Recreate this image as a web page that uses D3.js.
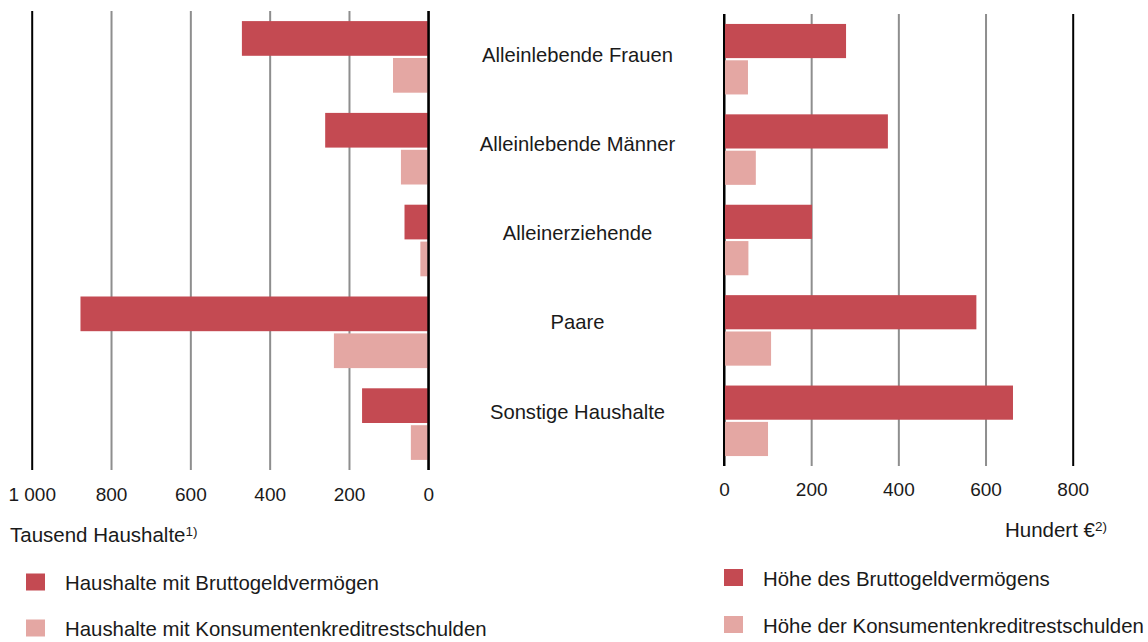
<!DOCTYPE html>
<html>
<head>
<meta charset="utf-8">
<script src="https://cdnjs.cloudflare.com/ajax/libs/d3/7.8.5/d3.min.js"></script>
<style>
  body { margin: 0; background: #fff; }
  text { font-family: "Liberation Sans", Arial, sans-serif; fill: #1a1a1a; }
</style>
</head>
<body>
<script>
// data
var categories = ['Alleinlebende Frauen', 'Alleinlebende Männer', 'Alleinerziehende', 'Paare', 'Sonstige Haushalte'];
var haushalteVermoegen = [470, 260, 60, 877, 167];   // Tausend Haushalte
var haushalteSchulden = [89, 69, 20, 238, 44];
var hoeheVermoegen = [280, 376, 202, 579, 663];      // Hundert €
var hoeheSchulden = [55, 73, 56, 108, 101];
var leftTicks = [0, 200, 400, 600, 800, 1000];
var rightTicks = [0, 200, 400, 600, 800];
var legendLeft = ['Haushalte mit Bruttogeldvermögen', 'Haushalte mit Konsumentenkreditrestschulden'];
var legendRight = ['Höhe des Bruttogeldvermögens', 'Höhe der Konsumentenkreditrestschulden'];

var dark = '#c44a52';
var light = '#e4a7a3';
var grid = '#8e8e8e';

var svg = d3.select('body').append('svg')
            .attr('width', 1148)
            .attr('height', 642);

var locale = d3.formatLocale({decimal: ',', thousands: '\u00a0', grouping: [3], currency: ['', '€']});
var fmt = locale.format(',d');

var sub = ['a', 'b'];

var drawPanel = function(opts) {
  var x = d3.scaleLinear().domain(opts.domain).range(opts.xRange);
  var y = d3.scaleBand().domain(categories).range(opts.yRange)
            .paddingInner(0.22).paddingOuter(0.11);
  var y2 = d3.scaleBand().domain(sub).range([0, y.bandwidth()]).paddingInner(0.06);
  var bottom = opts.yRange[1];
  var top = opts.yRange[0];

  var axis = d3.axisBottom(x).tickValues(opts.ticks).tickFormat(fmt)
               .tickSize(-(bottom - top)).tickPadding(opts.pad);
  var g = svg.append('g').attr('transform', 'translate(0,' + bottom + ')').call(axis);
  g.select('.domain').remove();
  g.selectAll('.tick line')
   .attr('stroke', function(d) { return opts.black.indexOf(d) >= 0 ? '#000' : grid; })
   .attr('stroke-width', 2);
  g.selectAll('.tick text')
   .attr('fill', '#1a1a1a')
   .style('font-size', '19px')
   .style('font-family', '"Liberation Sans", Arial, sans-serif');

  var rows = categories.map(function(c, i) {
    return {cat: c, a: opts.a[i], b: opts.b[i]};
  });

  var bars = svg.append('g');
  sub.forEach(function(k) {
    bars.selectAll('rect.' + k).data(rows).enter()
        .append('rect')
        .attr('class', k)
        .attr('x', function(d) { return Math.min(x(0), x(d[k])); })
        .attr('width', function(d) { return Math.abs(x(d[k]) - x(0)); })
        .attr('y', function(d) { return y(d.cat) + y2(k); })
        .attr('height', y2.bandwidth())
        .attr('fill', k == 'a' ? dark : light);
  });

  // zero line on top of the bars
  svg.append('line')
     .attr('x1', x(0)).attr('x2', x(0))
     .attr('y1', top).attr('y2', bottom)
     .attr('stroke', '#000').attr('stroke-width', 2);
};

drawPanel({domain: [0, 1000], xRange: [428.3, 31.7], yRange: [11, 470],
           ticks: leftTicks, black: [0, 1000], pad: 18,
           a: haushalteVermoegen, b: haushalteSchulden});

drawPanel({domain: [0, 800], xRange: [724, 1072.7], yRange: [14, 466],
           ticks: rightTicks, black: [0, 800], pad: 17,
           a: hoeheVermoegen, b: hoeheSchulden});

// category labels in the middle
var labelY = d3.scalePoint().domain(categories).range([62, 418.5]);
svg.append('g').selectAll('text').data(categories).enter()
   .append('text')
   .attr('x', 577.5)
   .attr('y', function(d) { return labelY(d); })
   .attr('text-anchor', 'middle')
   .style('font-size', '20.2px')
   .text(function(d) { return d; });

// unit labels
var unitL = svg.append('text').attr('x', 10).attr('y', 542).style('font-size', '20.5px');
unitL.append('tspan').text('Tausend Haushalte');
unitL.append('tspan').attr('dy', -6).style('font-size', '13.5px').text('1)');

var unitR = svg.append('text').attr('x', 1107).attr('y', 537).attr('text-anchor', 'end').style('font-size', '20.5px');
unitR.append('tspan').text('Hundert €');
unitR.append('tspan').attr('dy', -6).style('font-size', '13.5px').text('2)');

// legends
var drawLegend = function(items, x0, y0, step) {
  var lg = svg.append('g').selectAll('g').data(items).enter()
              .append('g')
              .attr('transform', function(d, i) { return 'translate(' + x0 + ',' + (y0 + i * step) + ')'; });
  lg.append('rect').attr('x', 0).attr('y', -16.5).attr('width', 19).attr('height', 17)
    .attr('fill', function(d, i) { return i == 0 ? dark : light; });
  lg.append('text').attr('x', 39).attr('y', 0).style('font-size', '20.4px')
    .text(function(d) { return d; });
};

drawLegend(legendLeft, 26, 590, 46);
drawLegend(legendRight, 724, 585.5, 47);
</script>
</body>
</html>
